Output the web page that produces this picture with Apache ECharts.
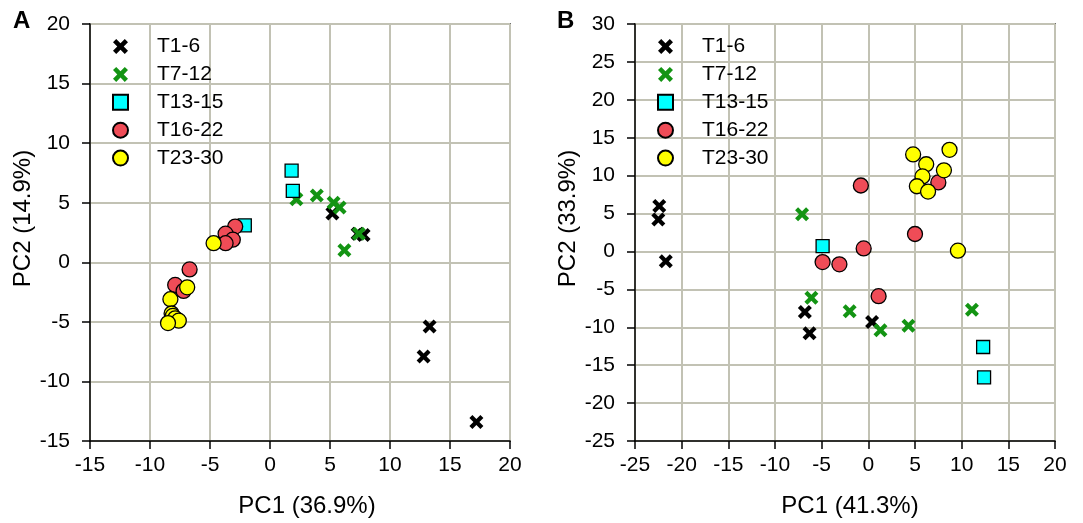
<!DOCTYPE html>
<html>
<head>
<meta charset="utf-8">
<script src="https://cdn.jsdelivr.net/npm/echarts@6/dist/echarts.min.js"></script>
<style>
html,body{margin:0;padding:0;background:#fff;}
#chart{width:1083px;height:523px;}
</style>
</head>
<body>
<div id="chart"></div>
<script>
// Group names
const groups = ['T1-6', 'T7-12', 'T13-15', 'T16-22', 'T23-30'];

// Panel A data [PC1, PC2]
const A_T1_6   = [[5.2,4.1],[7.8,2.3],[7.3,2.4],[13.3,-5.4],[12.8,-7.9],[17.2,-13.4]];
const A_T7_12  = [[2.2,5.3],[3.9,5.6],[5.3,5.0],[5.8,4.6],[7.4,2.4],[6.2,1.0]];
const A_T13_15 = [[1.8,7.7],[1.9,6.0],[-2.1,3.1]];
const A_T16_22 = [[-2.9,3.0],[-3.7,2.4],[-3.1,1.9],[-3.7,1.6],[-6.7,-0.6],[-7.9,-1.9],[-7.2,-2.4]];
const A_T23_30 = [[-4.7,1.6],[-6.9,-2.1],[-8.3,-3.1],[-8.2,-4.3],[-8.1,-4.5],[-7.9,-4.7],[-7.6,-4.9],[-8.5,-5.1]];

// Panel B data [PC1, PC2]
const B_T1_6   = [[-22.4,6.0],[-22.5,4.2],[-21.7,-1.3],[-6.8,-8.0],[-6.3,-10.8],[0.4,-9.3]];
const B_T7_12  = [[-7.1,4.9],[-6.1,-6.1],[-2.0,-7.9],[1.3,-10.4],[4.3,-9.8],[11.1,-7.7]];
const B_T13_15 = [[-4.9,0.7],[12.3,-12.6],[12.4,-16.6]];
const B_T16_22 = [[-0.8,8.7],[-0.5,0.4],[-4.9,-1.4],[-3.1,-1.7],[5.0,2.3],[7.5,9.1],[1.1,-5.9]];
const B_T23_30 = [[4.8,12.8],[8.7,13.4],[6.2,11.5],[8.1,10.7],[5.8,9.9],[5.2,8.6],[6.4,7.9],[9.6,0.1]];

// Axis settings
const A_X = {min:-15, max:20, interval:5, name:'PC1 (36.9%)'};
const A_Y = {min:-15, max:20, interval:5, name:'PC2 (14.9%)'};
const B_X = {min:-25, max:20, interval:5, name:'PC1 (41.3%)'};
const B_Y = {min:-25, max:30, interval:5, name:'PC2 (33.9%)'};

const FONT = '"Liberation Sans", Arial, sans-serif';
const crossPath = 'path://M0,3 L3,0 L7,4 L11,0 L14,3 L10,7 L14,11 L11,14 L7,10 L3,14 L0,11 L4,7 Z';

const styles = {
  'T1-6':   {symbol: crossPath, symbolSize: 14, itemStyle:{color:'#000000', opacity:1}},
  'T7-12':  {symbol: crossPath, symbolSize: 14, itemStyle:{color:'#139413', opacity:1}},
  'T13-15': {symbol: 'rect', symbolSize: 13, itemStyle:{color:'#00ffff', borderColor:'#000', borderWidth:1.3, opacity:1}},
  'T16-22': {symbol: 'circle', symbolSize: 15, itemStyle:{color:'#ef4c57', borderColor:'#000', borderWidth:1.3, opacity:1}},
  'T23-30': {symbol: 'circle', symbolSize: 15, itemStyle:{color:'#ffff00', borderColor:'#000', borderWidth:1.3, opacity:1}}
};

const panelA = [A_T1_6, A_T7_12, A_T13_15, A_T16_22, A_T23_30];
const panelB = [B_T1_6, B_T7_12, B_T13_15, B_T16_22, B_T23_30];

function makeAxis(cfg, idx, isX, shift) {
  return {
    type:'value', gridIndex: idx,
    min: cfg.min, max: cfg.max, interval: cfg.interval,
    name: cfg.name, nameLocation:'middle',
    nameGap: isX ? 53 : 51,
    nameTextStyle:{fontFamily:FONT, fontSize:24, color:'#000', padding:[0,0,0,shift]},
    axisLine:{show:true, onZero:false, lineStyle:{color:'#000', width:1.5}},
    axisTick:{show:true, inside:false, length:8, lineStyle:{color:'#000', width:1.5}},
    axisLabel:{fontFamily:FONT, fontSize:21, color:'#000', margin: isX ? 14 : 20},
    splitLine:{show:true, lineStyle:{color:'#c2c2b4', width:2}}
  };
}

const series = [];
[panelA, panelB].forEach((panel, p) => {
  panel.forEach((data, i) => {
    const name = groups[i];
    series.push(Object.assign({
      type:'scatter', name: name, xAxisIndex:p, yAxisIndex:p,
      data: data, z: 2 + i
    }, styles[name]));
  });
});

function makeLegend(left) {
  return {
    orient:'vertical', left:left, top:31,
    itemWidth:15, itemHeight:15, itemGap:6.9,
    data: groups,
    textStyle:{fontFamily:FONT, fontSize:21, color:'#000', padding:[0,0,0,24]},
    selectedMode:false
  };
}

const option = {
  animation:false,
  backgroundColor:'#fff',
  grid:[
    {left:90, top:24, width:420, height:421, show:true, borderColor:'#000', borderWidth:1.5, backgroundColor:'transparent'},
    {left:635, top:24, width:420, height:421, show:true, borderColor:'#000', borderWidth:1.5, backgroundColor:'transparent'}
  ],
  xAxis:[makeAxis(A_X,0,true,14), makeAxis(B_X,1,true,10)],
  yAxis:[makeAxis(A_Y,0,false,28), makeAxis(B_Y,1,false,28)],
  legend:[makeLegend(107), makeLegend(652)],
  graphic:[
    {type:'text', left:13, top:9, style:{text:'A', font:'bold 24px ' + FONT, fill:'#000'}},
    {type:'text', left:557, top:9, style:{text:'B', font:'bold 24px ' + FONT, fill:'#000'}}
  ],
  series: series
};

const chart = echarts.init(document.getElementById('chart'), null, {renderer:'canvas'});
chart.setOption(option);
</script>
</body>
</html>
